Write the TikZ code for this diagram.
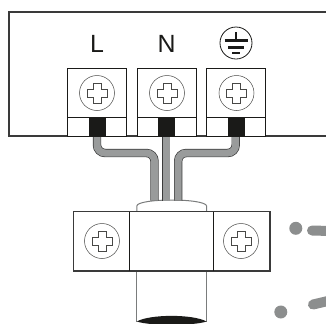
\documentclass[tikz,border=0pt]{standalone}
\usepackage{fontspec}
\setmainfont{Liberation Sans}
\definecolor{wiregray}{HTML}{999B9B}
\definecolor{wireedge}{HTML}{3A3A3A}
\definecolor{dotgray}{HTML}{8C8E8E}
\definecolor{inkblack}{HTML}{1A1A18}
\tikzset{
  x=1bp,y=-1bp,
  housing/.style={draw=wireedge,line width=1.7bp},
  termbox/.style={draw=inkblack,line width=0.7bp,fill=white},
  clampbox/.style={draw=wireedge,line width=1.3bp,fill=white},
  rule/.style={draw=inkblack,line width=0.7bp},
  plate/.style={fill=inkblack},
  screwring/.style={draw=inkblack!80,line width=0.5bp,fill=white},
  crossmark/.style={draw=inkblack!80,line width=0.45bp,fill=white},
  wireout/.style={draw=wireedge,line width=8.4bp,rounded corners=8bp},
  wirein/.style={draw=wiregray,line width=7bp,rounded corners=8bp},
  tube/.style={draw=wiregray!80!black,line width=1bp},
  lettermark/.style={inner sep=0pt,font=\fontsize{25}{25}\selectfont,text=inkblack},
  speck/.style={fill=dotgray},
  speckline/.style={draw=dotgray,line width=10bp,line cap=round},
  earthline/.style={draw=inkblack,line width=2.6bp}
}
\newcommand{\screwat}[2]{%
  \draw[screwring] (#1,#2) circle (17.5);
  \draw[crossmark] (#1-3.8,#2-10) -- (#1+3.8,#2-10) -- (#1+3.8,#2-3.8) -- (#1+10,#2-3.8)
    -- (#1+10,#2+3.8) -- (#1+3.8,#2+3.8) -- (#1+3.8,#2+10) -- (#1-3.8,#2+10)
    -- (#1-3.8,#2+3.8) -- (#1-10,#2+3.8) -- (#1-10,#2-3.8) -- (#1-3.8,#2-3.8) -- cycle;
}
\begin{document}
\begin{tikzpicture}
\useasboundingbox (0,0) rectangle (326,324);
\clip (0,0) rectangle (326,324);
% housing
\draw[housing] (327,12) -- (8.7,12) -- (8.7,136) -- (327,136);
% terminals
\foreach \bx/\pl in {67.5/89,137/158,206.5/228}{
  \draw[termbox] (\bx,68.5) rectangle (\bx+59,136);
  \draw[rule] (\bx,117) -- (\bx+59,117);
  \fill[plate] (\pl,117) rectangle (\pl+17,136);
}
\screwat{97}{93}
\screwat{167}{93}
\screwat{236.5}{93}
% labels
\node[lettermark] (labL) at (97,43.5) {L};
\node[lettermark] (labN) at (166.5,43.5) {N};
% earth symbol
\draw[inkblack,line width=0.8bp] (236,43) circle (16);
\draw[inkblack,line width=1.8bp] (236,32) -- (236,40);
\draw[earthline] (224.5,40.5) -- (248,40.5);
\draw[earthline] (228,47.5) -- (244,47.5);
\draw[earthline] (232,53) -- (240,53);
% cable cap
\draw[tube,fill=white] (136.8,211) -- (136.8,206) .. controls (137,202) and (155,200) .. (171.7,200)
  .. controls (188,200) and (206.4,202) .. (206.6,206) -- (206.6,211);
% wires
\coordinate (wa) at (97,137);
\coordinate (wb) at (97,153);
\coordinate (wc) at (154.5,153);
\coordinate (wd) at (154.5,200.5);
\coordinate (we) at (166.2,137);
\coordinate (wf) at (166.2,200.5);
\coordinate (wg) at (235.7,137);
\coordinate (wh) at (235.7,153);
\coordinate (wi) at (178.2,153);
\coordinate (wj) at (178.2,200.5);
\draw[wireout] (wa) -- (wb) -- (wc) -- (wd);
\draw[wireout] (we) -- (wf);
\draw[wireout] (wg) -- (wh) -- (wi) -- (wj);
\draw[wirein] (wa) -- (wb) -- (wc) -- (wd);
\draw[wirein] (we) -- (wf);
\draw[wirein] (wg) -- (wh) -- (wi) -- (wj);
% lower tube
\draw[tube] (136.8,271) -- (136.8,322);
\draw[tube] (206.6,271) -- (206.6,322);
\fill[inkblack] (136.8,321.5) .. controls (150,314) and (193,314) .. (206.6,321.5)
  .. controls (193,326) and (150,326) .. (136.8,321.5) -- cycle;
% clamp
\draw[clampbox] (73.5,211.5) rectangle (270,271);
\draw[rule] (129.5,211.5) -- (129.5,271);
\draw[rule] (213.5,211.5) -- (213.5,271);
\screwat{102}{241}
\screwat{241}{241}
% specks
\fill[speck] (295.8,228.3) circle (6.5);
\draw[speckline] (312,230.5) -- (330,231);
\fill[speck] (280.8,312) circle (6.5);
\draw[speckline] (313,304.5) -- (330,300.5);
\end{tikzpicture}
\end{document}
